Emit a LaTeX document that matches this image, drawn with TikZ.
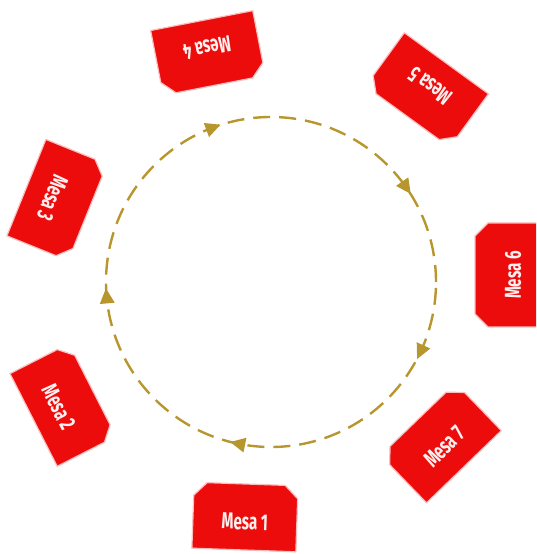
\documentclass[tikz,border=0pt]{standalone}
\usepackage{fontspec}
\newfontfamily\mesafont[FakeStretch=0.66]{Fira Sans}
\usetikzlibrary{calc}
\definecolor{mesared}{RGB}{236,12,12}
\definecolor{mesaedge}{RGB}{250,190,190}
\definecolor{ringgold}{RGB}{184,150,46}
\tikzset{
  mesabox/.style={fill=mesared,draw=mesaedge,line width=1.2pt,line join=miter},
  mesatext/.style={text=white!94!red,font=\mesafont\bfseries\fontsize{23}{23}\selectfont,inner sep=0pt},
  ring/.style={draw=ringgold,line width=2.4pt,dash pattern=on 17pt off 9pt},
  ringtip/.style={fill=ringgold}
}
\newcommand{\mesa}[5]{% name, x, y, rotation, label
  \begin{scope}[shift={(#2,#3)},rotate=#4]
    \path[mesabox] (-52,-33) -- (-52,20) -- (-39,33) -- (39,33) -- (52,20) -- (52,-33) -- cycle;
    \node[mesatext,rotate=#4] (#1) at (0,-5) {#5};
  \end{scope}
}
\begin{document}
\begin{tikzpicture}[x=1pt,y=1pt]
\useasboundingbox (0,0) rectangle (536,554);
\begin{scope}
\clip (0,0) rectangle (536,554);
\coordinate (c) at (271,272);
\draw[ring] (c) circle[radius=165];
\foreach \a in {110.6,35,-25,-101.5,185} {
  \coordinate (p) at ($(c)+(\a:165)$);
  \path[ringtip] ($(p)+(\a-90:8)$) -- ($(p)+(\a+90:7)+(\a:7.5)$) -- ($(p)+(\a+90:7)+(\a+180:7.5)$) -- cycle;
}
\mesa{m1}{245}{37}{-2}{Mesa 1}
\mesa{m2}{63}{149}{-63}{Mesa 2}
\mesa{m3}{57}{354}{-112}{Mesa 3}
\mesa{m4}{208}{501}{191}{Mesa 4}
\mesa{m5}{427}{464}{144}{Mesa 5}
\mesa{m6}{508}{279}{90}{Mesa 6}
\mesa{m7}{441}{111}{44}{Mesa 7}
\end{scope}
\end{tikzpicture}
\end{document}
